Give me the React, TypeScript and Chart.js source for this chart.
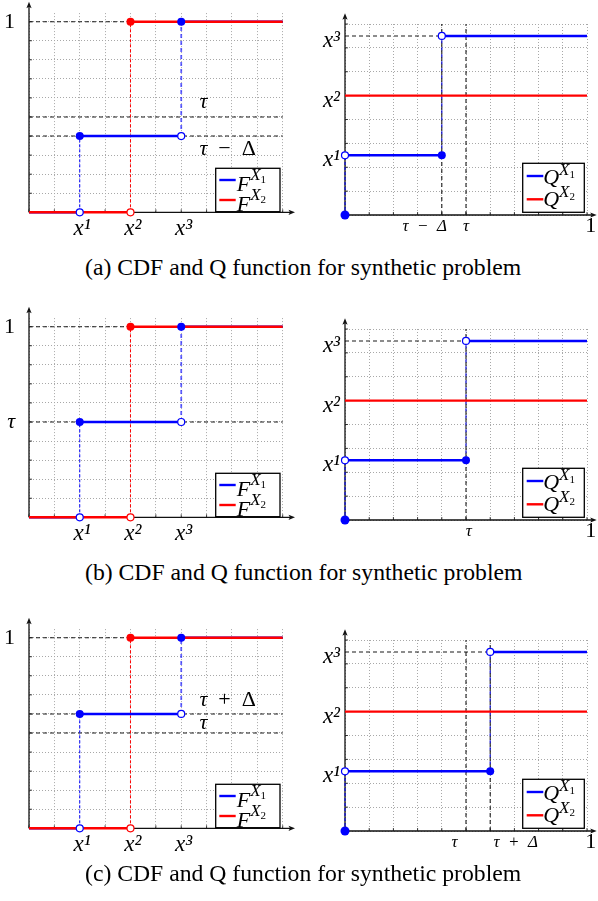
import React, { useEffect, useRef } from "react";
import { Chart, registerables } from "chart.js";

Chart.register(...registerables);

// ---------------- data ----------------
const atomX = [2, 4, 6]; // x^1, x^2, x^3 on the CDF x-axis
const atomLabels = ["x¹", "x²", "x³"];
const atomQ = [2.5, 5, 7.5]; // x^1, x^2, x^3 on the Q-function y-axis
const cdfXTicks = [0, 1, 2, 3, 4, 5, 6, 7, 8, 9, 10];
const cdfYTicks = [0, 0.1, 0.2, 0.3, 0.4, 0.5, 0.6, 0.7, 0.8, 0.9, 1];
const qXTicks = [0, 0.1, 0.2, 0.3, 0.4, 0.5, 0.6, 0.7, 0.8, 0.9, 1];
const qYTicks = [0, 1, 2, 3, 4, 5, 6, 7, 8];
const cdfXMax = 10;
const cdfYMax = 1.045;
const qXMax = 1;
const qYMax = 8;
const tau = 0.5;
const f1Mid = [0.4, 0.5, 0.6]; // F^{X1} on [x^1, x^3) for panels a, b, c
const f2Low = 0;
const f2High = 1;
const cdfYLabels: [number, string][][] = [
  [[1, "1"]],
  [[0.5, "τ"], [1, "1"]],
  [[1, "1"]],
];
const qXLabels: [number, string][][] = [
  [[0.4, "τ − Δ"], [0.5, "τ"], [1, "1"]],
  [[0.5, "τ"], [1, "1"]],
  [[0.5, "τ"], [0.6, "τ + Δ"], [1, "1"]],
];
const cdfNotes: [number, string][][] = [
  [[0.5, "τ"], [0.4, "τ − Δ"]],
  [],
  [[0.6, "τ + Δ"], [0.5, "τ"]],
];
const captions = [
  "(a) CDF and Q function for synthetic problem",
  "(b) CDF and Q function for synthetic problem",
  "(c) CDF and Q function for synthetic problem",
];

// ---------------- layout / style ----------------
const SERIF = '"Liberation Serif", "Times New Roman", serif';
const BLUE = "#0000ff";
const BLUE_SOFT = "rgba(30,30,255,0.7)";
const BLUE_DARK = "#0000c8";
const RED = "#ff0000";
const REF = "#1a1a1a";
const GRID = "#a8a8a8";
const AXIS = "#111111";
const panelTop = [0, 305, 616];
const captionBaseline = [275.7, 580.7, 881.7];
const captionSize = 23.7;
const noteX = 6.72;
const noteDy = [[-9, 19], [], [-7.5, -4]];
// label nudges, in thirds of an em (negative = shift left, positive = shift right)
const qXNudge = [[-6, 0, 1], [1, 1], [-4, 9, 1]];

const near = (a: number, b: number) => Math.abs(a - b) < 1e-6;
type P = { x: number; y: number };

const seg = (pts: P[], color: string, width: number, dash: number[] = []) => ({
  type: "line" as const,
  data: pts,
  borderColor: color,
  borderWidth: width,
  borderDash: dash,
  borderCapStyle: "butt" as const,
  pointRadius: 0,
  pointHoverRadius: 0,
  fill: false,
  tension: 0,
  clip: false as any,
});

const dots = (pts: P[], fillC: string, strokeC: string, r: number, bw: number) => ({
  type: "line" as const,
  data: pts,
  showLine: false,
  pointRadius: r,
  pointHoverRadius: r,
  pointBackgroundColor: fillC,
  pointBorderColor: strokeC,
  pointBorderWidth: bw,
  clip: false as any,
});

const stack = (list: any[]) => list.map((d, i) => ({ ...d, order: list.length - i }));

const fitX = (h: number) => (s: any) => {
  s.height = h;
  s.paddingLeft = 0;
  s.paddingRight = 0;
  s.paddingTop = 0;
  s.paddingBottom = 0;
};
const fitY = (w: number) => (s: any) => {
  s.width = w;
  s.paddingLeft = 0;
  s.paddingRight = 0;
  s.paddingTop = 0;
  s.paddingBottom = 0;
};

type Run = { t: string; size: number; italic?: boolean; dy?: number };
function drawRuns(ctx: CanvasRenderingContext2D, runs: Run[], x: number, y: number) {
  let cx = x;
  ctx.textAlign = "left";
  ctx.textBaseline = "alphabetic";
  for (const r of runs) {
    ctx.font = `${r.italic ? "italic " : ""}${r.size}px ${SERIF}`;
    ctx.fillText(r.t, cx, y + (r.dy || 0));
    cx += ctx.measureText(r.t).width;
  }
}

function mathRuns(text: string, size: number): Run[] {
  const rest = text.slice(1).split(" ").join("\u2002");
  return [
    { t: text[0], size, italic: true },
    { t: rest, size },
  ];
}

type LegendCfg = {
  w: number; h: number; inset: number; binset: number;
  lineY: number[]; l0: number; l1: number; tx: number; base: number[];
  supDy: number; subDy: number;
};
const cdfLegend: LegendCfg = {
  w: 64.3, h: 43.4, inset: 2.7, binset: 0.6, lineY: [11.7, 31.7], l0: 3.6, l1: 20,
  tx: 21, base: [22.4, 42.4], supDy: -11, subDy: -7.7,
};
const qLegend: LegendCfg = {
  w: 61.6, h: 49, inset: 2.7, binset: 2.7, lineY: [12.7, 36], l0: 4, l1: 20.6,
  tx: 20.5, base: [20.7, 42.7], supDy: -9.5, subDy: -6,
};

function drawLegend(ctx: CanvasRenderingContext2D, area: any, sym: string, L: LegendCfg) {
  const x0 = area.right - L.inset - L.w;
  const y0 = area.bottom - L.binset - L.h;
  ctx.save();
  ctx.setLineDash([]);
  ctx.fillStyle = "#ffffff";
  ctx.fillRect(x0, y0, L.w, L.h);
  ctx.strokeStyle = "#000";
  ctx.lineWidth = 1.3;
  ctx.strokeRect(x0, y0, L.w, L.h);
  [BLUE, RED].forEach((c, i) => {
    const ly = y0 + L.lineY[i];
    ctx.strokeStyle = c;
    ctx.lineWidth = 2.4;
    ctx.beginPath();
    ctx.moveTo(x0 + L.l0, ly);
    ctx.lineTo(x0 + L.l1, ly);
    ctx.stroke();
    ctx.fillStyle = "#000";
    drawRuns(
      ctx,
      [
        { t: sym, size: 22, italic: true },
        { t: "X", size: 17, italic: true, dy: L.supDy },
        { t: String(i + 1), size: 11, dy: L.subDy },
      ],
      x0 + L.tx,
      y0 + L.base[i]
    );
  });
  ctx.restore();
}

function makeDecor(opts: {
  xTip: number; yTip: number; xMarks: number[]; yMarks: number[];
  legend: LegendCfg; sym: string; notes?: [number, string][]; dys?: number[];
}) {
  return {
    id: "decor",
    beforeDatasetsDraw(chart: any) {
      const { ctx, chartArea: a } = chart;
      const sx = chart.scales.x;
      const sy = chart.scales.y;
      const x0 = sx.getPixelForValue(0);
      const y0 = sy.getPixelForValue(0);
      ctx.save();
      ctx.setLineDash([]);
      ctx.strokeStyle = AXIS;
      ctx.fillStyle = AXIS;
      ctx.lineWidth = 0.8;
      ctx.beginPath();
      for (const v of opts.xMarks) {
        const px = sx.getPixelForValue(v);
        ctx.moveTo(px, y0);
        ctx.lineTo(px, y0 - 3);
      }
      for (const v of opts.yMarks) {
        const py = sy.getPixelForValue(v);
        ctx.moveTo(x0, py);
        ctx.lineTo(x0 + 3, py);
      }
      ctx.stroke();
      ctx.lineWidth = 1.3;
      const xt = a.right + opts.xTip;
      const yt = a.top - opts.yTip;
      ctx.beginPath();
      ctx.moveTo(x0, y0);
      ctx.lineTo(xt - 4, y0);
      ctx.moveTo(x0, y0);
      ctx.lineTo(x0, yt + 4);
      ctx.stroke();
      ctx.beginPath();
      ctx.moveTo(xt, y0);
      ctx.lineTo(xt - 6.5, y0 - 2.6);
      ctx.lineTo(xt - 5, y0);
      ctx.lineTo(xt - 6.5, y0 + 2.6);
      ctx.closePath();
      ctx.fill();
      ctx.beginPath();
      ctx.moveTo(x0, yt);
      ctx.lineTo(x0 - 2.6, yt + 6.5);
      ctx.lineTo(x0, yt + 5);
      ctx.lineTo(x0 + 2.6, yt + 6.5);
      ctx.closePath();
      ctx.fill();
      ctx.restore();
    },
    afterDatasetsDraw(chart: any) {
      const { ctx, chartArea: a } = chart;
      const sx = chart.scales.x;
      const sy = chart.scales.y;
      ctx.save();
      ctx.fillStyle = "#000";
      (opts.notes || []).forEach(([v, text], i) => {
        drawRuns(ctx, mathRuns(text, 22), sx.getPixelForValue(noteX), sy.getPixelForValue(v) + (opts.dys || [])[i]);
      });
      drawLegend(ctx, a, opts.sym, opts.legend);
      ctx.restore();
    },
  };
}

const pad = (n: number) => "\u2004".repeat(Math.abs(n));

function cdfConfig(p: number): any {
  const m = f1Mid[p];
  const [x1, x2, x3] = atomX;
  const datasets = stack([
    seg([{ x: 0, y: 1 }, { x: cdfXMax, y: 1 }], REF, 1.1, [4, 3]),
    seg([{ x: 0, y: tau }, { x: cdfXMax, y: tau }], REF, 1.1, [4, 3]),
    ...(near(m, tau) ? [] : [seg([{ x: 0, y: m }, { x: cdfXMax, y: m }], REF, 1.1, [4, 3])]),
    seg([{ x: x1, y: 0 }, { x: x1, y: m }], BLUE, 1, [3, 2]),
    seg([{ x: x3, y: m }, { x: x3, y: 1 }], BLUE_SOFT, 1.8, [4, 3]),
    seg([{ x: x2, y: f2Low }, { x: x2, y: f2High }], RED, 1, [3, 2]),
    seg([{ x: 0, y: 0 }, { x: x1, y: 0 }], BLUE, 2.4),
    seg([{ x: x1, y: m }, { x: x3, y: m }], BLUE, 2.4),
    seg([{ x: x3, y: 1 }, { x: cdfXMax, y: 1 }], BLUE, 2.4),
    seg([{ x: 0, y: f2Low }, { x: x2, y: f2Low }], RED, 2.4),
    seg([{ x: x2, y: f2High }, { x: cdfXMax, y: f2High }], RED, 2.4),
    dots([{ x: x1, y: 0 }, { x: x3, y: m }], "#ffffff", BLUE, 3.5, 1.2),
    dots([{ x: x1, y: m }, { x: x3, y: 1 }], BLUE, BLUE, 4, 0),
    dots([{ x: x2, y: f2Low }], "#ffffff", RED, 3.5, 1.2),
    dots([{ x: x2, y: f2High }], RED, RED, 4, 0),
  ]);
  const yLab = cdfYLabels[p];
  return {
    type: "line",
    data: { datasets },
    options: {
      responsive: false,
      maintainAspectRatio: false,
      animation: false,
      events: [],
      layout: { padding: { left: 0, right: 17.3, top: 13.1, bottom: 0 } },
      plugins: { legend: { display: false }, tooltip: { enabled: false } },
      scales: {
        x: {
          type: "linear",
          min: 0,
          max: cdfXMax,
          afterBuildTicks: (s: any) => { s.ticks = cdfXTicks.map((v) => ({ value: v })); },
          afterFit: fitX(37.7),
          grid: { color: GRID, lineWidth: 1, drawTicks: false },
          border: { display: true, color: "rgba(0,0,0,0)", dash: [1, 2] },
          ticks: {
            autoSkip: false, maxRotation: 0, minRotation: 0, padding: 5, color: "#000",
            font: { family: SERIF, size: 23, style: "italic", lineHeight: 1 },
            callback: (v: number) => {
              const i = atomX.findIndex((a) => near(a, v));
              return i >= 0 ? "\u2009" + atomLabels[i] : "";
            },
          },
        },
        y: {
          type: "linear",
          min: 0,
          max: cdfYMax,
          afterBuildTicks: (s: any) => { s.ticks = cdfYTicks.map((v) => ({ value: v })); },
          afterFit: fitY(29),
          grid: { color: GRID, lineWidth: 1, drawTicks: false },
          border: { display: true, color: "rgba(0,0,0,0)", dash: [1, 2] },
          ticks: {
            autoSkip: false, padding: 14, color: "#000", labelOffset: 0.5,
            font: (c: any) => {
              const isOne = c.tick && near(c.tick.value, 1);
              return { family: SERIF, size: 22, style: isOne ? "normal" : "italic", lineHeight: 1 };
            },
            callback: (v: number) => {
              const e = yLab.find(([a]) => near(a, v));
              return e ? e[1] : "";
            },
          },
        },
      },
    },
    plugins: [
      makeDecor({
        xTip: 12.3, yTip: 11.4, xMarks: cdfXTicks, yMarks: cdfYTicks,
        legend: cdfLegend, sym: "F", notes: cdfNotes[p], dys: noteDy[p],
      }),
    ],
  };
}

function qConfig(p: number): any {
  const q = f1Mid[p];
  const [a1, a2, a3] = atomQ;
  const datasets = stack([
    seg([{ x: 0, y: a3 }, { x: q, y: a3 }], REF, 1.1, [4, 3]),
    seg([{ x: tau, y: 0 }, { x: tau, y: qYMax }], REF, 1.1, [4, 3]),
    ...(near(q, tau) ? [] : [seg([{ x: q, y: 0 }, { x: q, y: qYMax }], REF, 1.1, [4, 3])]),
    seg([{ x: 0, y: 0 }, { x: 0, y: a1 }], BLUE, 1, [3, 2]),
    seg([{ x: q, y: a1 }, { x: q, y: a3 }], BLUE_DARK, 1.2, [3, 4]),
    seg([{ x: 0, y: a2 }, { x: qXMax, y: a2 }], RED, 2.4),
    seg([{ x: 0, y: a1 }, { x: q, y: a1 }], BLUE, 2.4),
    seg([{ x: q, y: a3 }, { x: qXMax, y: a3 }], BLUE, 2.4),
    dots([{ x: 0, y: 0 }], BLUE, BLUE, 4.5, 0),
    dots([{ x: q, y: a1 }], BLUE, BLUE, 4, 0),
    dots([{ x: 0, y: a1 }, { x: q, y: a3 }], "#ffffff", BLUE, 3.5, 1.2),
  ]);
  const xLab = qXLabels[p];
  const nudge = qXNudge[p];
  const yTickVals = Array.from(new Set([...qYTicks, ...atomQ])).sort((a, b) => a - b);
  return {
    type: "line",
    data: { datasets },
    options: {
      responsive: false,
      maintainAspectRatio: false,
      animation: false,
      events: [],
      layout: { padding: { left: 0, right: 11, top: 24, bottom: 0 } },
      plugins: { legend: { display: false }, tooltip: { enabled: false } },
      scales: {
        x: {
          type: "linear",
          min: 0,
          max: qXMax,
          afterBuildTicks: (s: any) => { s.ticks = qXTicks.map((v) => ({ value: v })); },
          afterFit: fitX(35),
          grid: { color: GRID, lineWidth: 1, drawTicks: false },
          border: { display: true, color: "rgba(0,0,0,0)", dash: [1, 2] },
          ticks: {
            autoSkip: false, maxRotation: 0, minRotation: 0, padding: 0, color: "#000",
            font: (c: any) => {
              const isOne = c.tick && near(c.tick.value, 1);
              return isOne
                ? { family: SERIF, size: 22, style: "normal", lineHeight: 1 }
                : { family: SERIF, size: 17, style: "italic", lineHeight: 1.35 };
            },
            callback: (v: number) => {
              const i = xLab.findIndex(([a]) => near(a, v));
              if (i < 0) return "";
              const n = nudge[i];
              const t = xLab[i][1].split(" ").join("\u2002");
              return n < 0 ? t + pad(n) : pad(n) + t;
            },
          },
        },
        y: {
          type: "linear",
          min: 0,
          max: qYMax,
          afterBuildTicks: (s: any) => { s.ticks = yTickVals.map((v) => ({ value: v })); },
          afterFit: fitY(45),
          grid: {
            color: (c: any) => (c.tick && qYTicks.some((v) => near(v, c.tick.value)) ? GRID : "rgba(0,0,0,0)"),
            lineWidth: 1,
            drawTicks: false,
          },
          border: { display: true, color: "rgba(0,0,0,0)", dash: [1, 2] },
          ticks: {
            autoSkip: false, padding: 5, color: "#000", labelOffset: 5,
            font: { family: SERIF, size: 23, style: "italic", lineHeight: 1 },
            callback: (v: number) => {
              const i = atomQ.findIndex((a) => near(a, v));
              return i >= 0 ? atomLabels[i] : "";
            },
          },
        },
      },
    },
    plugins: [
      makeDecor({ xTip: 9.7, yTip: 10.7, xMarks: qXTicks, yMarks: qYTicks, legend: qLegend, sym: "Q" }),
    ],
  };
}

function ChartPanel(props: { build: () => any; left: number; top: number; width: number; height: number }) {
  const ref = useRef<HTMLCanvasElement>(null);
  useEffect(() => {
    const chart = new Chart(ref.current as HTMLCanvasElement, props.build());
    return () => chart.destroy();
  }, []);
  return (
    <canvas
      ref={ref}
      width={props.width}
      height={props.height}
      style={{ position: "absolute", left: props.left, top: props.top, width: props.width, height: props.height }}
    />
  );
}

export default function App() {
  return (
    <div style={{ position: "absolute", left: 0, top: 0, width: 598, height: 901, background: "#fff", overflow: "hidden" }}>
      {[0, 1, 2].map((p) => (
        <React.Fragment key={p}>
          <ChartPanel build={() => cdfConfig(p)} left={0} top={panelTop[p]} width={300} height={250} />
          <ChartPanel build={() => qConfig(p)} left={300} top={panelTop[p]} width={298} height={250} />
          <div
            style={{
              position: "absolute",
              left: 85,
              top: captionBaseline[p] - captionSize * 0.8375,
              fontFamily: SERIF,
              fontSize: captionSize,
              lineHeight: 1,
              whiteSpace: "nowrap",
              color: "#000",
            }}
          >
            {captions[p]}
          </div>
        </React.Fragment>
      ))}
    </div>
  );
}
